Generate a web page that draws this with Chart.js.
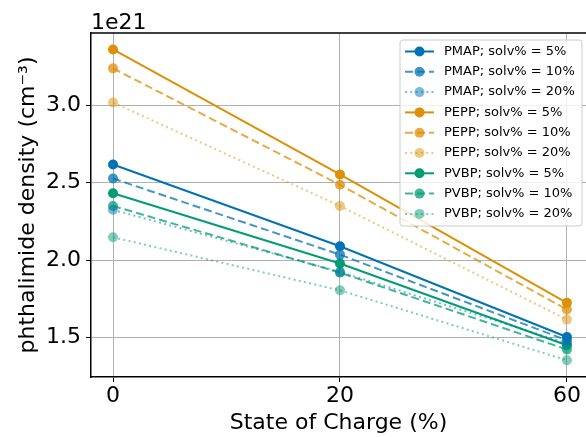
<!DOCTYPE html>
<html lang="en">
<head>
    <meta charset="UTF-8">
    <title>Phthalimide density vs SOC</title>
    <script src="https://cdn.jsdelivr.net/npm/chart.js"></script>
    <style>
        body {
            margin: 0;
            background: white;
        }
        #wrap {
            width: 586px;
            height: 437px;
        }
    </style>
</head>
<body>
    <div id="wrap">
        <canvas id="densityChart" width="586" height="437"></canvas>
    </div>

    <script>
        // values, in units of 1e21 cm^-3
        const socLabels = ['0', '20', '60'];
        const pmap5  = [2.617, 2.090, 1.505];
        const pmap10 = [2.527, 2.036, 1.484];
        const pmap20 = [2.325, 1.925, 1.465];
        const pepp5  = [3.359, 2.553, 1.725];
        const pepp10 = [3.237, 2.486, 1.682];
        const pepp20 = [3.017, 2.350, 1.617];
        const pvbp5  = [2.432, 1.979, 1.452];
        const pvbp10 = [2.350, 1.920, 1.424];
        const pvbp20 = [2.148, 1.806, 1.355];
        const yTicks = [1.5, 2.0, 2.5, 3.0];

        const FONT = "'DejaVu Sans', sans-serif";

        const colors = {
            PMAP: [1, 115, 178],
            PEPP: [222, 143, 5],
            PVBP: [2, 158, 115]
        };
        const styles = {
            '5':  { alpha: 1.0,  dash: [] },
            '10': { alpha: 0.75, dash: [8, 4] },
            '20': { alpha: 0.5,  dash: [2, 3.3] }
        };

        function rgba(c, a) {
            return 'rgba(' + c[0] + ',' + c[1] + ',' + c[2] + ',' + a + ')';
        }

        function makeSet(polymer, solv, values) {
            const st = styles[solv];
            const col = rgba(colors[polymer], st.alpha);
            return {
                label: polymer + '; solv% = ' + solv + '%',
                data: values.map((v, i) => ({ x: i, y: v })),
                borderColor: col,
                backgroundColor: col,
                pointBackgroundColor: col,
                pointBorderColor: col,
                pointBorderWidth: 0,
                pointRadius: 5,
                borderWidth: 2,
                borderDash: st.dash,
                tension: 0
            };
        }

        const datasets = [
            makeSet('PMAP', '5', pmap5),
            makeSet('PMAP', '10', pmap10),
            makeSet('PMAP', '20', pmap20),
            makeSet('PEPP', '5', pepp5),
            makeSet('PEPP', '10', pepp10),
            makeSet('PEPP', '20', pepp20),
            makeSet('PVBP', '5', pvbp5),
            makeSet('PVBP', '10', pvbp10),
            makeSet('PVBP', '20', pvbp20)
        ];

        // frame top line, offset text and the legend box
        const extras = {
            id: 'extras',
            afterDraw(chart) {
                const ctx = chart.ctx;
                const a = chart.chartArea;
                ctx.save();
                ctx.strokeStyle = 'black';
                ctx.lineWidth = 1.5;
                ctx.beginPath();
                ctx.moveTo(a.left, a.top);
                ctx.lineTo(a.right, a.top);
                ctx.stroke();

                ctx.fillStyle = 'black';
                ctx.font = '22px ' + FONT;
                ctx.textAlign = 'left';
                ctx.textBaseline = 'alphabetic';
                ctx.fillText('1e21', a.left, 29);

                // legend
                const bx = 400, by = 40, bw = 182, bh = 186;
                ctx.fillStyle = 'rgba(255,255,255,0.8)';
                ctx.strokeStyle = '#cccccc';
                ctx.lineWidth = 1;
                ctx.beginPath();
                ctx.roundRect(bx, by, bw, bh, 3);
                ctx.fill();
                ctx.stroke();

                ctx.font = '13px ' + FONT;
                ctx.textBaseline = 'middle';
                chart.data.datasets.forEach((ds, i) => {
                    const y = by + 11.5 + i * 20.3;
                    ctx.strokeStyle = ds.borderColor;
                    ctx.lineWidth = ds.borderWidth;
                    ctx.setLineDash(ds.borderDash);
                    ctx.beginPath();
                    ctx.moveTo(405, y);
                    ctx.lineTo(434, y);
                    ctx.stroke();
                    ctx.setLineDash([]);
                    ctx.fillStyle = ds.pointBackgroundColor;
                    ctx.beginPath();
                    ctx.arc(419.5, y, 5, 0, Math.PI * 2);
                    ctx.fill();
                    ctx.fillStyle = 'black';
                    ctx.fillText(ds.label, 444, y);
                });
                ctx.restore();
            }
        };

        const config = {
            type: 'line',
            data: { datasets: datasets },
            options: {
                responsive: false,
                animation: false,
                layout: {
                    autoPadding: false,
                    padding: { top: 33, right: 0, left: 0, bottom: 0 }
                },
                plugins: {
                    legend: { display: false },
                    tooltip: { enabled: false }
                },
                scales: {
                    x: {
                        type: 'linear',
                        min: -0.097,
                        max: 2.084,
                        afterBuildTicks: s => { s.ticks = socLabels.map((l, i) => ({ value: i })); },
                        afterFit: s => {
                            s.height = 60;
                            s.paddingRight = 0;
                            s.paddingLeft = 0;
                        },
                        ticks: {
                            color: 'black',
                            font: { family: FONT, size: 22 },
                            padding: 1,
                            maxRotation: 0,
                            callback: v => socLabels[v]
                        },
                        grid: {
                            color: '#b0b0b0',
                            lineWidth: 1,
                            tickColor: 'black',
                            tickLength: 5
                        },
                        border: { color: 'black', width: 1.5 },
                        title: {
                            display: true,
                            text: 'State of Charge (%)',
                            color: 'black',
                            font: { family: FONT, size: 22 },
                            padding: { top: 0, bottom: 1 }
                        }
                    },
                    y: {
                        min: 1.247,
                        max: 3.465,
                        afterBuildTicks: s => { s.ticks = yTicks.map(v => ({ value: v })); },
                        afterFit: s => { s.width = 91; },
                        ticks: {
                            color: 'black',
                            font: { family: FONT, size: 22 },
                            padding: 5,
                            callback: v => v.toFixed(1)
                        },
                        grid: {
                            color: '#b0b0b0',
                            lineWidth: 1,
                            tickColor: 'black',
                            tickLength: 5
                        },
                        border: { color: 'black', width: 1.5 },
                        title: {
                            display: true,
                            text: 'phthalimide density (cm\u207B\u00B3)',
                            color: 'black',
                            font: { family: FONT, size: 22 },
                            padding: { top: 15, bottom: 0 }
                        }
                    }
                }
            },
            plugins: [extras]
        };

        new Chart(document.getElementById('densityChart'), config);
    </script>
</body>
</html>
